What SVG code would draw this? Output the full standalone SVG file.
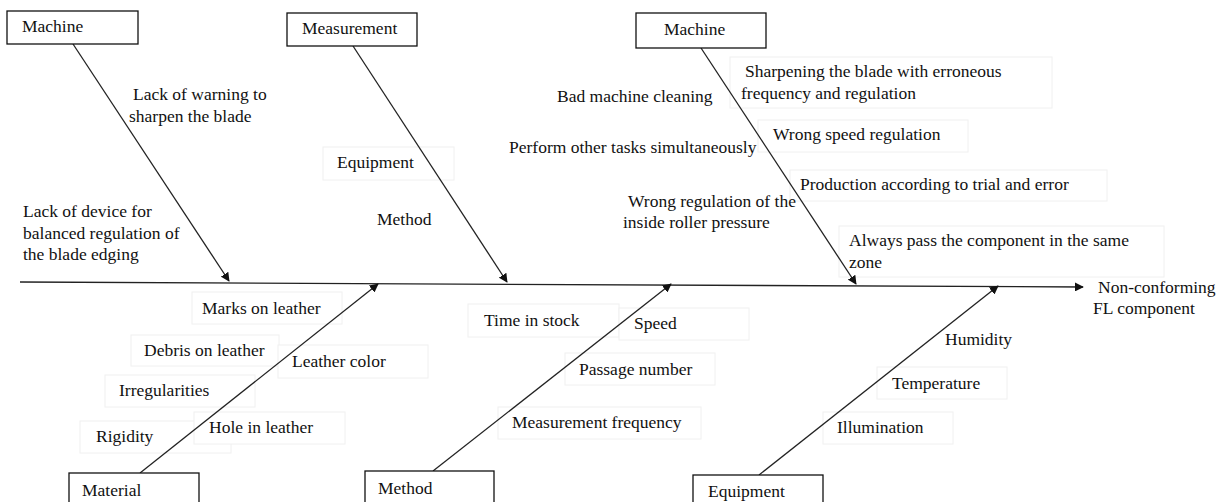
<svg xmlns="http://www.w3.org/2000/svg" width="1226" height="502" viewBox="0 0 1226 502">
<style>
text{font-family:"Liberation Serif","Times New Roman",serif;font-size:17.5px;fill:#111}
.cat{fill:#fff;stroke:#111;stroke-width:1.3}
.lb{fill:#fff;stroke:#f0f0f0;stroke-width:1}
.ln{stroke:#222;stroke-width:1.3;fill:none}
</style>
<defs>
<marker id="ah" viewBox="0 0 10 10" refX="9" refY="5" markerWidth="9" markerHeight="9" markerUnits="userSpaceOnUse" orient="auto">
<path d="M0,0 L10,5 L0,10 z" fill="#111"/>
</marker>
</defs>
<rect width="1226" height="502" fill="#fff"/>

<g id="label-boxes">
<rect class="lb" x="323" y="147" width="131" height="33"/>
<rect class="lb" x="730" y="57" width="322" height="51"/>
<rect class="lb" x="758" y="120" width="210" height="32"/>
<rect class="lb" x="790" y="170" width="317" height="31"/>
<rect class="lb" x="839" y="226" width="325" height="51"/>
<rect class="lb" x="192" y="292" width="150" height="32"/>
<rect class="lb" x="131" y="335" width="148" height="31"/>
<rect class="lb" x="278" y="345" width="150" height="33"/>
<rect class="lb" x="105" y="375" width="150" height="32"/>
<rect class="lb" x="80" y="421" width="151" height="32"/>
<rect class="lb" x="194" y="412" width="151" height="32"/>
<rect class="lb" x="468" y="304" width="151" height="33"/>
<rect class="lb" x="619" y="308" width="130" height="32"/>
<rect class="lb" x="565" y="353" width="150" height="32"/>
<rect class="lb" x="498" y="407" width="203" height="32"/>
<rect class="lb" x="877" y="367" width="130" height="32"/>
<rect class="lb" x="823" y="412" width="130" height="32"/>
</g>

<g id="connectors">
<line class="ln" x1="20" y1="282" x2="1083" y2="287" marker-end="url(#ah)"/>
<line class="ln" x1="73" y1="44" x2="229" y2="281" marker-end="url(#ah)"/>
<line class="ln" x1="353" y1="46" x2="507" y2="282" marker-end="url(#ah)"/>
<line class="ln" x1="701" y1="48" x2="856" y2="284" marker-end="url(#ah)"/>
<line class="ln" x1="140" y1="473" x2="378" y2="284" marker-end="url(#ah)"/>
<line class="ln" x1="433" y1="471" x2="671" y2="284" marker-end="url(#ah)"/>
<line class="ln" x1="759" y1="475" x2="998" y2="286" marker-end="url(#ah)"/>
</g>

<g id="cat-machine-1"><rect class="cat" x="7" y="11" width="131" height="33"/><text x="22" y="32">Machine</text></g>
<g id="cat-measurement"><rect class="cat" x="287" y="13" width="130" height="33"/><text x="302" y="34">Measurement</text></g>
<g id="cat-machine-2"><rect class="cat" x="636" y="13" width="130" height="35"/><text x="664" y="35">Machine</text></g>
<g id="cat-material"><rect class="cat" x="69" y="473" width="130" height="40"/><text x="82" y="496">Material</text></g>
<g id="cat-method"><rect class="cat" x="365" y="471" width="129" height="40"/><text x="378" y="494">Method</text></g>
<g id="cat-equipment"><rect class="cat" x="693" y="475" width="130" height="40"/><text x="708" y="497">Equipment</text></g>

<g id="effect"><text x="1098" y="293">Non-conforming</text><text x="1093" y="314">FL component</text></g>

<g id="causes-machine-1">
<text x="133" y="100">Lack of warning to</text><text x="129" y="122">sharpen the blade</text>
<text x="23" y="217">Lack of device for</text><text x="23" y="239">balanced regulation of</text><text x="23" y="260">the blade edging</text>
</g>
<g id="causes-measurement">
<text x="337" y="168">Equipment</text>
<text x="377" y="225">Method</text>
</g>
<g id="causes-machine-2">
<text x="557" y="102">Bad machine cleaning</text>
<text x="509" y="153">Perform other tasks simultaneously</text>
<text x="628" y="207">Wrong regulation of the</text><text x="623" y="228">inside roller pressure</text>
<text x="745" y="77">Sharpening the blade with erroneous</text><text x="741" y="99">frequency and regulation</text>
<text x="773" y="140">Wrong speed regulation</text>
<text x="800" y="190">Production according to trial and error</text>
<text x="849" y="246">Always pass the component in the same</text><text x="849" y="268">zone</text>
</g>
<g id="causes-material">
<text x="202" y="314">Marks on leather</text>
<text x="144" y="356">Debris on leather</text>
<text x="292" y="367">Leather color</text>
<text x="119" y="396">Irregularities</text>
<text x="96" y="442">Rigidity</text>
<text x="209" y="433">Hole in leather</text>
</g>
<g id="causes-method">
<text x="484" y="326">Time in stock</text>
<text x="634" y="329">Speed</text>
<text x="579" y="375">Passage number</text>
<text x="512" y="428">Measurement frequency</text>
</g>
<g id="causes-equipment">
<text x="945" y="345">Humidity</text>
<text x="892" y="389">Temperature</text>
<text x="837" y="433">Illumination</text>
</g>
</svg>
